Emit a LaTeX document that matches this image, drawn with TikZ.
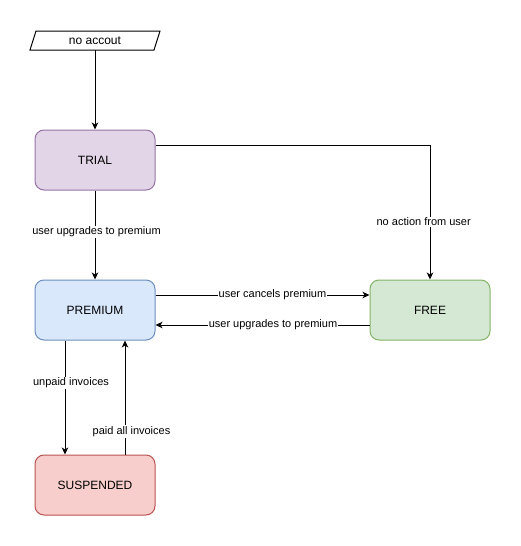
\documentclass[tikz,border=0pt]{standalone}
\usepackage{fontspec}
\setmainfont{Liberation Sans}
\usetikzlibrary{arrows.meta}
\definecolor{trialfill}{HTML}{E1D5E7}
\definecolor{trialdraw}{HTML}{9673A6}
\definecolor{premfill}{HTML}{DAE8FC}
\definecolor{premdraw}{HTML}{6C8EBF}
\definecolor{freefill}{HTML}{D5E8D4}
\definecolor{freedraw}{HTML}{82B366}
\definecolor{suspfill}{HTML}{F8CECC}
\definecolor{suspdraw}{HTML}{B85450}
\tikzset{
  statebox/.style={rectangle, rounded corners=9pt, minimum width=120pt, minimum height=60pt,
    line width=1pt, font=\fontsize{12}{14}\selectfont, inner sep=0pt},
  lbl/.style={fill=white, inner sep=1pt, font=\fontsize{11}{13}\selectfont},
  conn/.style={line width=1pt, -{Stealth[length=7pt,width=6.5pt,inset=2pt]}},
}
\begin{document}
\begin{tikzpicture}[x=1pt,y=-1pt]
\useasboundingbox (0,0) rectangle (521,546);
% start parallelogram
\draw[line width=1pt] (36,31) -- (160,31) -- (154,50) -- (30,50) -- cycle;
\node[minimum width=124pt, minimum height=19pt, inner sep=0pt, font=\fontsize{12}{14}\selectfont] (start) at (95,40.5) {no accout};
% states
\node[statebox, fill=trialfill, draw=trialdraw] (trial) at (95,160) {TRIAL};
\node[statebox, fill=premfill, draw=premdraw] (premium) at (95,310) {PREMIUM};
\node[statebox, fill=freefill, draw=freedraw] (free) at (430,310) {FREE};
\node[statebox, fill=suspfill, draw=suspdraw] (susp) at (95,485) {SUSPENDED};
% connectors
\draw[conn] (start.south) -- (trial.north);
\draw[conn] (trial.south) -- (premium.north);
\draw[conn] ([yshift=15pt]trial.east) -| (free.north);
\draw[conn] ([yshift=15pt]premium.east) -- ([yshift=15pt]free.west);
\draw[conn] ([yshift=-15pt]free.west) -- ([yshift=-15pt]premium.east);
\draw[conn] ([xshift=-30pt]premium.south) -- ([xshift=-30pt]susp.north);
\draw[conn] ([xshift=30pt]susp.north) -- ([xshift=30pt]premium.south);
% labels
\node[lbl] (l1) at (96.5,232) {user upgrades to premium};
\node[lbl] (l2) at (423.7,222) {no action from user};
\node[lbl] (l3) at (272.5,295) {user cancels premium};
\node[lbl] (l4) at (273,325) {user upgrades to premium};
\node[lbl] (l5) at (71,383) {unpaid invoices};
\node[lbl] (l6) at (131.5,431.5) {paid all invoices};
\end{tikzpicture}
\end{document}
